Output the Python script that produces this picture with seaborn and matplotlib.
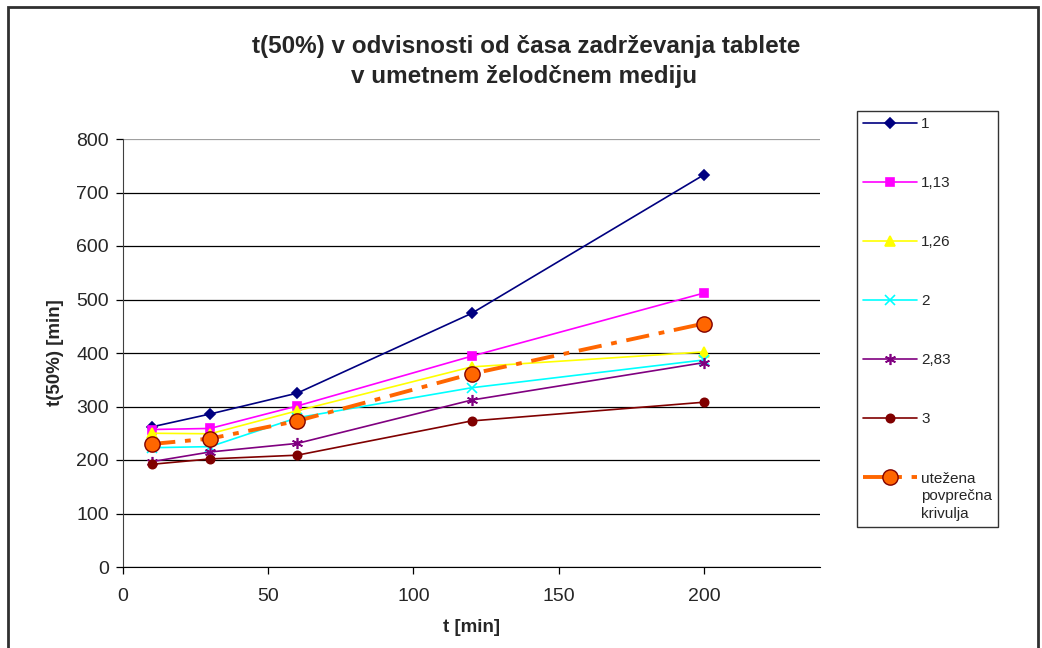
import numpy as np
import matplotlib
matplotlib.use("Agg")
import matplotlib.pyplot as plt
from matplotlib.patches import Rectangle
import pandas as pd
import seaborn as sns

# time points [min]
t = [10, 30, 60, 120, 200]

# t(50%) values per series
s_1 = [262, 286, 325, 474, 733]
s_113 = [257, 259, 301, 394, 512]
s_126 = [250, 249, 292, 374, 402]
s_2 = [223, 225, 279, 335, 387]
s_283 = [197, 215, 231, 312, 382]
s_3 = [192, 202, 209, 273, 308]
s_avg = [230, 240, 273, 361, 455]

labels = ["1", "1,13", "1,26", "2", "2,83", "3", "utežena\npovprečna\nkrivulja"]

sns.set_style("white")
plt.rcParams['font.family'] = ['Liberation Sans', 'DejaVu Sans']

fig = plt.figure(figsize=(10.42, 6.48), dpi=100)
ax = fig.add_axes([123/1042, 1 - 567/648, (820-123)/1042, (567-139)/648])

styles = [
    (s_1, "#000080", "D", 5, "#000080"),
    (s_113, "#FF00FF", "s", 6, "#FF00FF"),
    (s_126, "#FFFF00", "^", 7, "#FFFF00"),
    (s_2, "#00FFFF", "x", 7, "#00FFFF"),
    (s_283, "#800080", (6, 2, 0), 8, "#800080"),
    (s_3, "#800000", "o", 6, "#800000"),
]

for (vals, col, mk, ms, mec), lab in zip(styles, labels[:6]):
    df = pd.DataFrame({"t": t, "v": vals})
    sns.lineplot(data=df, x="t", y="v", ax=ax, color=col, marker=mk,
                 markersize=ms, markeredgecolor=mec, markeredgewidth=1.2,
                 linewidth=1.2, label=lab)

df = pd.DataFrame({"t": t, "v": s_avg})
sns.lineplot(data=df, x="t", y="v", ax=ax, color="#FF6600", marker="o",
             markersize=11, markerfacecolor="#FF6600", markeredgecolor="#800000",
             markeredgewidth=1.0, linewidth=2.8, dashes=False, label=labels[6])
ax.lines[-1].set_linestyle((0, (6, 2.5, 1.5, 2.5)))

ax.set_xlim(0, 240)
ax.set_ylim(0, 800)
ax.set_xticks([0, 50, 100, 150, 200])
ax.set_yticks(np.arange(0, 801, 100))
ax.yaxis.grid(True, color="black", linewidth=0.9)
ax.get_ygridlines()[-1].set_color("#a0a0a0")
ax.set_axisbelow(True)
for s in ["top", "right"]:
    ax.spines[s].set_visible(False)
ax.spines["left"].set_color("#404040")
ax.spines["bottom"].set_color("black")
ax.tick_params(axis="both", direction="out", length=5, width=0.9,
               labelsize=14, color="black", left=True, bottom=True)
ax.tick_params(axis="y", pad=5)
ax.tick_params(axis="x", pad=10)

ax.set_xlabel("t [min]", fontsize=13.5, fontweight="bold", labelpad=10)
ax.set_ylabel("t(50%) [min]", fontsize=13.5, fontweight="bold")
ax.yaxis.set_label_coords(-0.085, 0.5)

fig.text(0.505, 1 - 46/648, "t(50%) v odvisnosti od časa zadrževanja tablete",
         ha="center", va="center", fontsize=17.5, fontweight="bold")
fig.text(0.503, 1 - 77/648, "v umetnem želodčnem mediju",
         ha="center", va="center", fontsize=17.5, fontweight="bold")

leg = ax.legend(loc="upper left", bbox_to_anchor=(857/1042, 1 - 111/648),
                bbox_transform=fig.transFigure, frameon=True, fancybox=False,
                edgecolor="black", fontsize=11, labelspacing=2.95,
                handlelength=3.5, borderpad=0.4, handletextpad=0.3,
                borderaxespad=0)
leg.get_frame().set_linewidth(1.0)
for line in leg.get_lines()[:6]:
    line.set_linewidth(1.2)
leg.get_texts()[-1].set_linespacing(1.35)
# put the marker of the multi-line entry next to its first line
for col in leg._legend_handle_box.get_children():
    col.get_children()[-1].align = "top"

fig.patches.append(Rectangle((8/1042, -0.02), (1038-8)/1042, 1.02 - 7/648,
                             transform=fig.transFigure, fill=False,
                             edgecolor="#303030", linewidth=2))

fig.savefig("out.png", dpi=100)
